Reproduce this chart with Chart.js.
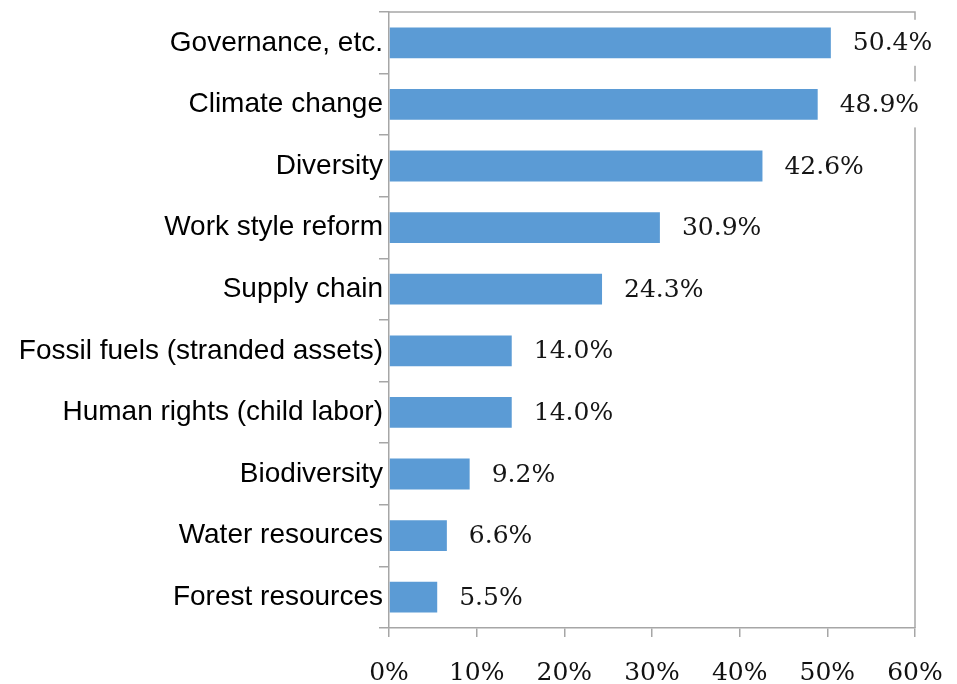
<!DOCTYPE html>
<html><head><meta charset="utf-8">
<script src="https://cdn.jsdelivr.net/npm/chart.js@4"></script>
<style>html,body{margin:0;padding:0;background:#fff;} #wrap{width:957px;height:684px;position:relative;}</style>
</head><body><div id="wrap"><canvas id="c"></canvas></div>
<script>
const categories = [
  'Governance, etc.',
  'Climate change',
  'Diversity',
  'Work style reform',
  'Supply chain',
  'Fossil fuels (stranded assets)',
  'Human rights (child labor)',
  'Biodiversity',
  'Water resources',
  'Forest resources'
];
const shares = [50.4, 48.9, 42.6, 30.9, 24.3, 14.0, 14.0, 9.2, 6.6, 5.5];
const xTickValues = [0, 10, 20, 30, 40, 50, 60];

const AXIS_GRAY = '#a6a6a6';
const NUM_FONT = '"DejaVu Serif", "Liberation Serif", serif';

const frame = {
  id: 'frame',
  beforeDatasetsDraw(chart) {
    const { ctx, chartArea: a } = chart;
    ctx.save();
    ctx.strokeStyle = AXIS_GRAY;
    ctx.lineWidth = 1.5;
    ctx.beginPath();
    ctx.moveTo(a.left, a.top);
    ctx.lineTo(a.right, a.top);
    ctx.lineTo(a.right, a.bottom);
    ctx.stroke();
    ctx.restore();
  }
};

const valueLabels = {
  id: 'valueLabels',
  afterDatasetsDraw(chart) {
    const ctx = chart.ctx;
    const meta = chart.getDatasetMeta(0);
    ctx.save();
    ctx.font = '25px ' + NUM_FONT;
    ctx.textBaseline = 'middle';
    ctx.textAlign = 'left';
    meta.data.forEach((bar, i) => {
      const txt = shares[i].toFixed(1) + '%';
      const x = bar.x + 22;
      const w = ctx.measureText(txt).width;
      ctx.fillStyle = '#fff';
      ctx.fillRect(x - 8, bar.y - 23, w + 16, 46);
      ctx.fillStyle = '#151515';
      ctx.fillText(txt, x, bar.y + 1);
    });
    ctx.restore();
  }
};

new Chart(document.getElementById('c'), {
  type: 'bar',
  data: {
    labels: categories,
    datasets: [{
      data: shares,
      backgroundColor: '#5b9bd5',
      borderWidth: 0,
      barPercentage: 0.5,
      categoryPercentage: 1
    }]
  },
  options: {
    indexAxis: 'y',
    responsive: true,
    maintainAspectRatio: false,
    animation: false,
    events: [],
    layout: { padding: { top: 12, right: 42, bottom: 0, left: 0 } },
    plugins: { legend: { display: false }, tooltip: { enabled: false } },
    scales: {
      x: {
        min: xTickValues[0],
        max: xTickValues[xTickValues.length - 1],
        afterBuildTicks(s) { s.ticks = xTickValues.map(v => ({ value: v })); },
        ticks: {
          callback: v => v + '%',
          color: '#111',
          font: { family: NUM_FONT, size: 25 },
          padding: 21,
          maxRotation: 0
        },
        grid: { drawOnChartArea: false, drawTicks: true, tickLength: 9, color: AXIS_GRAY, lineWidth: 1.5 },
        border: { color: AXIS_GRAY, width: 1.5 },
        afterFit(s) { s.height = 56; s.paddingLeft = 0; s.paddingRight = 0; }
      },
      y: {
        ticks: {
          color: '#000',
          font: { family: '"Liberation Sans", Arial, sans-serif', size: 28 },
          padding: -4,
          autoSkip: false
        },
        grid: { drawOnChartArea: false, drawTicks: true, tickLength: 10, color: AXIS_GRAY, lineWidth: 1.5 },
        border: { color: AXIS_GRAY, width: 1.5 },
        afterFit(s) { s.width = 389; s.paddingTop = 0; s.paddingBottom = 0; }
      }
    }
  },
  plugins: [frame, valueLabels]
});
</script>
</body></html>
